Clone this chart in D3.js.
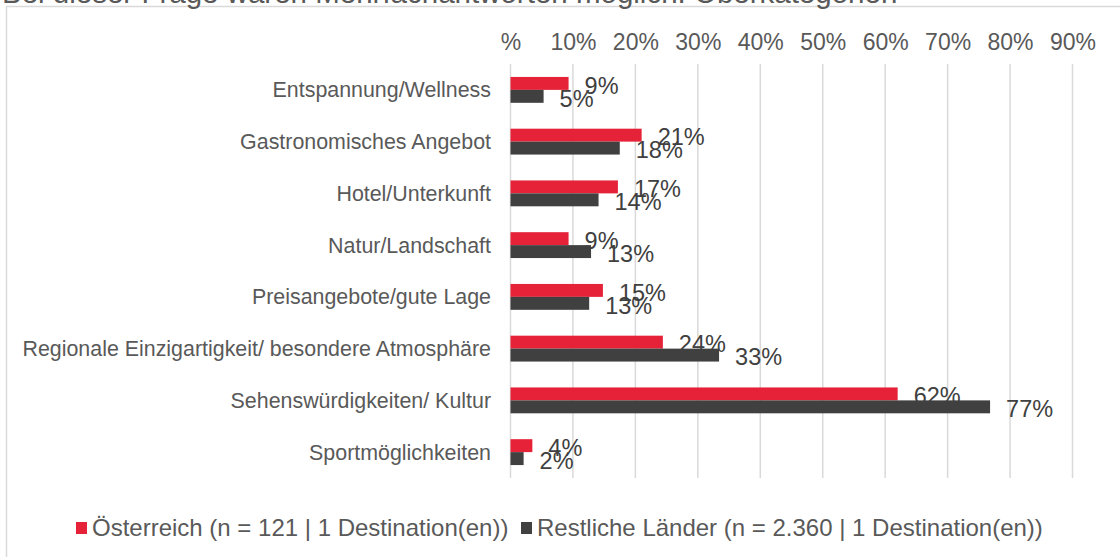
<!DOCTYPE html>
<html>
<head>
<meta charset="utf-8">
<script src="https://cdn.jsdelivr.net/npm/d3@7"></script>
<style>
  body { margin: 0; background: #fff; }
  svg { font-family: "Liberation Sans", Arial, sans-serif; display: block; }
</style>
</head>
<body>
<svg id="chart"></svg>
<script>
// categories and series values (shares)
const categories = [
    "Entspannung/Wellness",
    "Gastronomisches Angebot",
    "Hotel/Unterkunft",
    "Natur/Landschaft",
    "Preisangebote/gute Lage",
    "Regionale Einzigartigkeit/ besondere Atmosphäre",
    "Sehenswürdigkeiten/ Kultur",
    "Sportmöglichkeiten"
];
const austria = [0.093, 0.21, 0.172, 0.093, 0.148, 0.244, 0.62, 0.035];
const others = [0.053, 0.175, 0.141, 0.129, 0.126, 0.334, 0.768, 0.021];
const austriaLabels = ["9%", "21%", "17%", "9%", "15%", "24%", "62%", "4%"];
const othersLabels = ["5%", "18%", "14%", "13%", "13%", "33%", "77%", "2%"];
const tickValues = [0, 0.1, 0.2, 0.3, 0.4, 0.5, 0.6, 0.7, 0.8, 0.9];
const seriesNames = ["Österreich (n = 121 | 1 Destination(en))", "Restliche Länder (n = 2.360 | 1 Destination(en))"];
const seriesColors = ["#e52238", "#404040"];

const width = 1120, height = 557;
const svg = d3.select("#chart").attr("width", width).attr("height", height);

// frame
svg.append("rect")
    .attr("x", 6.5).attr("y", 6.5)
    .attr("width", 1200).attr("height", 600)
    .attr("fill", "none")
    .attr("stroke", "#d9d9d9")
    .attr("stroke-width", 1.5);

// cut-off note at the top
svg.append("text")
    .attr("x", 2).attr("y", 3)
    .attr("fill", "#595959")
    .style("font-size", "29.5px")
    .text("Bei dieser Frage waren Mehrfachantworten möglich. Oberkategorien");

const x = d3.scaleLinear().domain([0, 0.9]).range([510.5, 1072.5]);
const y = d3.scaleBand().domain(categories).range([64, 478]).paddingInner(0.5).paddingOuter(0.25);
const sub = d3.scaleBand().domain([0, 1]).range([0, y.bandwidth()]);

// gridlines
svg.append("g")
    .selectAll("line")
    .data(tickValues)
    .enter().append("line")
    .attr("x1", d => x(d)).attr("x2", d => x(d))
    .attr("y1", 64).attr("y2", 478)
    .attr("stroke", "#d9d9d9")
    .attr("stroke-width", 1.5);

// top axis labels
const xAxis = svg.append("g")
    .attr("transform", "translate(0,50)")
    .call(d3.axisTop(x).tickValues(tickValues).tickSize(0).tickPadding(0)
        .tickFormat(d => d === 0 ? "%" : d3.format(".0%")(d)));
xAxis.select(".domain").remove();
xAxis.selectAll("text")
    .attr("fill", "#595959")
    .style("font-size", "23px")
    .style("font-family", "Liberation Sans, Arial, sans-serif");

// category labels
const yAxis = svg.append("g")
    .attr("transform", "translate(491,0)")
    .call(d3.axisLeft(y).tickSize(0).tickPadding(0));
yAxis.select(".domain").remove();
yAxis.selectAll("text")
    .attr("fill", "#595959")
    .attr("dy", "0.35em")
    .style("font-size", "21.4px")
    .style("font-family", "Liberation Sans, Arial, sans-serif");

const rows = categories.map((c, i) => ({ cat: c, vals: [austria[i], others[i]], labels: [austriaLabels[i], othersLabels[i]] }));

const groups = svg.append("g")
    .selectAll("g")
    .data(rows)
    .enter().append("g")
    .attr("transform", d => `translate(0,${y(d.cat)})`);

groups.selectAll("rect")
    .data(d => d.vals.map((v, k) => ({ v, k })))
    .enter().append("rect")
    .attr("x", x(0))
    .attr("y", d => sub(d.k))
    .attr("width", d => x(d.v) - x(0))
    .attr("height", sub.bandwidth())
    .attr("fill", d => seriesColors[d.k]);

groups.selectAll("text")
    .data(d => d.vals.map((v, k) => ({ v, k, label: d.labels[k] })))
    .enter().append("text")
    .attr("x", d => x(d.v) + 16)
    .attr("y", d => sub(d.k) + sub.bandwidth() / 2 + 2)
    .attr("dy", "0.35em")
    .attr("fill", "#404040")
    .style("font-size", "23.5px")
    .text(d => d.label);

// legend
const legendX = [76, 521];
const legend = svg.append("g")
    .selectAll("g")
    .data(seriesNames)
    .enter().append("g")
    .attr("transform", (d, i) => `translate(${legendX[i]},522)`);
legend.append("rect")
    .attr("width", 11).attr("height", 12)
    .attr("fill", (d, i) => seriesColors[i]);
legend.append("text")
    .attr("x", 16).attr("y", 6)
    .attr("dy", "0.35em")
    .attr("fill", "#595959")
    .style("font-size", "24px")
    .text(d => d);
</script>
</body>
</html>
